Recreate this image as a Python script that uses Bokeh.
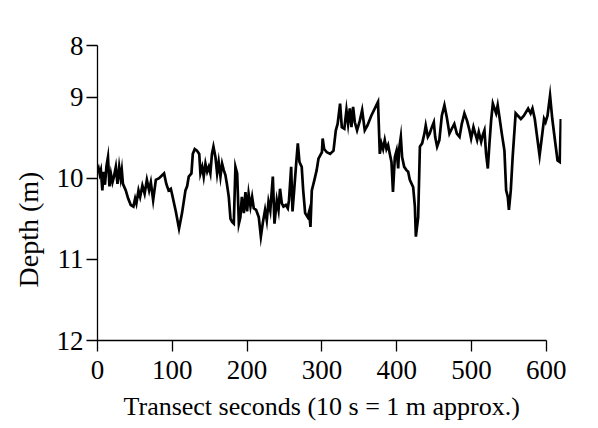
from bokeh.plotting import figure
from bokeh.models import Range1d, FixedTicker, Title
from bokeh.embed import file_html
from bokeh.resources import INLINE

seconds = [0, 1.5, 3, 4.5, 6.5, 8, 10, 12, 14, 16, 18, 20, 22, 24.5, 26.7, 29, 31, 32.5, 34,
           37.8, 41, 44.5, 48, 50.3, 52, 54.8, 57, 60, 63, 66, 69, 71.3, 74.4, 78, 82.4, 86.8,
           89, 92, 95, 98, 100, 104.7, 109,
           113, 117.6, 119.8, 122, 125.6, 127.4, 130, 133, 136, 137.6, 140, 142, 144.3, 146.6,
           148.8, 150.9, 153, 155, 157.7, 159.9, 162, 164.4, 166.6, 168.8, 171, 173, 175.5,
           177.8, 180, 182.2, 184.4, 186.7, 189, 191, 193, 195.6, 197.8, 200, 202, 204.5,
           206.7, 208.9, 212, 215.6, 218.4,
           221, 224, 226.3, 228.6, 231, 234.4, 236.6, 239.7, 242, 244, 246.4, 248.6, 251.8,
           254.4, 256, 258.9, 260.7, 262.9, 265.6, 267.8, 270, 273, 275, 277.6, 281, 283,
           284.7, 286.5, 290, 293, 295.4, 297.6, 300, 301, 303, 306.6, 311, 315.5, 318.6,
           321, 324.3, 326.6, 330,
           332.8, 335, 337.3, 339.5, 341.7, 344, 347, 350.7, 353.8, 357.3, 360.9, 366, 372.9,
           375, 377.4, 379.6, 381.8, 384, 386.3, 388.5, 390.8, 393, 395, 397.5, 399.8, 402,
           403.2, 405.5, 407.2, 410, 413, 415.3, 417.5, 422, 424.3, 425.6, 428.7, 431, 434,
           437, 438.8, 441.6,
           444, 447, 449.6, 451.4, 454, 457, 460.3, 463.8, 467, 470.5, 473.6, 477, 480.4, 484,
           487, 490.5, 494, 497.3, 499.5, 502.6, 505, 507.5, 509.7, 512.9, 515, 517.3, 519.5,
           521.8, 524, 526.2, 528.5, 530.7, 532.9, 535, 537.4, 540.5, 544, 546.3, 548.5, 550,
           552.5, 555, 559, 566, 570, 575.7, 579, 581.5, 584.6, 588, 591, 594.9, 597, 599,
           601.6, 605, 608, 611.8, 615, 618, 619.4]

depth = [9.92, 9.88, 9.95, 9.90, 10.15, 9.92, 10.08, 9.85, 9.74, 10.10, 9.95, 10.05, 9.98,
         9.86, 10.07, 9.86, 10.00, 9.90, 10.07,
         10.15, 10.25, 10.33, 10.35, 10.25, 10.31, 10.15, 10.23, 10.09, 10.19, 10.02, 10.15,
         10.05, 10.27, 10.02, 10.00, 9.96, 9.94, 10.07, 10.15, 10.13, 10.21, 10.41, 10.62,
         10.43, 10.15, 10.10, 9.98, 9.94, 9.70, 9.64, 9.66, 9.70, 9.94, 9.86, 9.98, 9.82, 9.92,
         9.86, 9.94, 9.70, 9.61, 9.74, 9.94, 9.80, 9.98, 9.82, 9.90, 9.96, 10.07, 10.23,
         10.50, 10.54, 10.56, 9.86, 9.94, 10.56, 10.48, 10.23, 10.43, 10.17, 10.41, 10.19, 10.35,
         10.23, 10.37, 10.39, 10.48, 10.72,
         10.55, 10.39, 10.52, 10.29, 10.40, 9.98, 10.56, 10.27, 10.39, 10.13, 10.31, 10.35,
         10.33, 10.37, 10.27, 9.86, 10.41, 10.15, 9.82, 9.57, 9.80, 9.86, 10.15, 10.43, 10.48,
         10.41, 10.60, 10.15, 10.02, 9.90, 9.76, 9.72, 9.68, 9.51, 9.64, 9.68, 9.70, 9.66,
         9.41, 9.33, 9.08, 9.37, 9.39,
         9.16, 9.33, 9.14, 9.37, 9.12, 9.31, 9.41, 9.29, 9.16, 9.41, 9.35, 9.23, 9.10,
         9.06, 9.70, 9.57, 9.64, 9.53, 9.64, 9.59, 9.70, 9.80, 10.17, 9.74, 9.66, 9.88,
         9.64, 9.49, 9.74, 9.86, 9.90, 9.92, 10.02, 10.11, 10.35, 10.72, 10.48, 9.61, 9.57,
         9.45, 9.35, 9.49,
         9.45, 9.37, 9.31, 9.49, 9.61, 9.53, 9.23, 9.10, 9.25, 9.45, 9.39, 9.33, 9.45, 9.49,
         9.33, 9.20, 9.29, 9.41, 9.51, 9.37, 9.45, 9.53, 9.43, 9.55, 9.47, 9.41, 9.70,
         9.88, 9.57, 9.29, 9.08, 9.14, 9.20, 9.10, 9.25, 9.45, 9.66, 10.15, 10.23, 10.39,
         10.15, 9.74, 9.20, 9.27, 9.23, 9.14, 9.20, 9.14, 9.27, 9.51, 9.72, 9.43, 9.27, 9.31,
         9.23, 8.98, 9.27, 9.55, 9.78, 9.80, 9.27]

x_ticks = [0, 100, 200, 300, 400, 500, 600]
y_top = 8.364
y_ticks = [y_top, 9, 10, 11, 12]
y_tick_labels = {y_top: "8"}

FONT = "Liberation Serif"
FS = "27px"

p = figure(width=598, height=428, output_backend="svg", toolbar_location=None,
           x_range=Range1d(0, 620.3), y_range=Range1d(12, y_top),
           min_border_left=97, min_border_right=37, min_border_top=45, min_border_bottom=87)
p.outline_line_color = None
p.grid.visible = False
p.background_fill_color = "white"
p.border_fill_color = "white"

p.line(seconds, depth, line_color="black", line_width=2.7, line_join="miter")

for ax in (p.xaxis[0], p.yaxis[0]):
    ax.axis_line_color = "black"
    ax.axis_line_width = 1.3
    ax.major_tick_line_color = "black"
    ax.major_tick_line_width = 1.3
    ax.major_tick_out = 11
    ax.major_tick_in = 0
    ax.minor_tick_line_color = None
    ax.major_label_text_font = FONT
    ax.major_label_text_font_size = FS
    ax.major_label_text_color = "black"

p.xaxis.ticker = FixedTicker(ticks=x_ticks)
p.xaxis.bounds = (0, 600)
p.xaxis.major_label_standoff = 9

p.yaxis.ticker = FixedTicker(ticks=y_ticks)
p.yaxis.major_label_overrides = y_tick_labels
p.yaxis.major_label_standoff = 3

xtitle = Title(text="Transect seconds (10 s = 1 m approx.)", align="left", offset=26,
               standoff=16, text_font=FONT, text_font_size="26px",
               text_font_style="normal", text_color="black")
p.add_layout(xtitle, "below")

ytitle = Title(text="Depth (m)", align="left", offset=53, standoff=20,
               text_font=FONT, text_font_size="28px", text_font_style="normal",
               text_color="black")
p.add_layout(ytitle, "left")

open("out.html", "w").write(file_html(p, INLINE))
